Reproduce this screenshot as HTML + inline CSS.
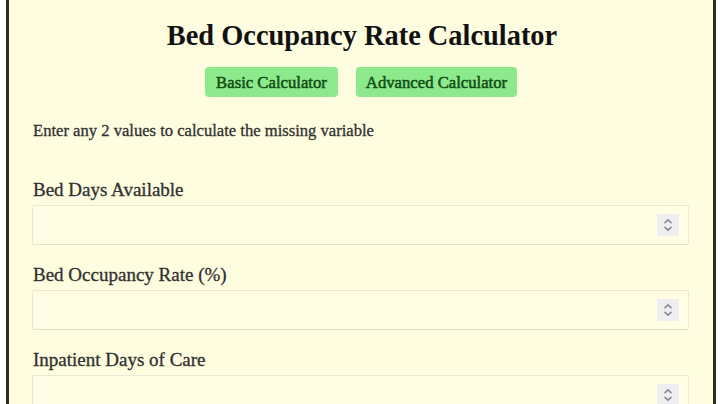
<!DOCTYPE html>
<html><head><meta charset="utf-8">
<style>
html,body{margin:0;padding:0;background:#fff;}
body{width:720px;height:404px;overflow:hidden;position:relative;font-family:"Liberation Serif",serif;}
.frame{position:absolute;left:6px;top:-10px;width:704px;height:430px;border:3px solid #2b2b24;background:#fffde0;}
h1{position:absolute;left:2px;width:720px;top:20px;margin:0;text-align:center;font-size:28.4px;font-weight:bold;color:#111;line-height:normal;}
.btn{position:absolute;top:67px;height:30px;background:#8cea8c;border-radius:4px;color:#104d14;-webkit-text-stroke:0.5px #104d14;font-size:16.7px;line-height:31px;text-align:center;}
.b1{left:205px;width:133px;}
.b2{left:356px;width:161px;}
.hint{position:absolute;left:33px;top:121px;font-size:16.6px;color:#303030;-webkit-text-stroke:0.3px #303030;}
.lbl{position:absolute;left:33px;font-size:19px;color:#303030;-webkit-text-stroke:0.3px #303030;}
.inp{position:absolute;left:32px;width:655px;height:38px;border:1px solid #ebe9d3;border-bottom-color:#e3e1ca;border-radius:2px;background:#fffee4;}
.spin{position:absolute;left:624px;top:8px;width:22px;height:22px;background:#eeeef0;}
.spin svg{position:absolute;left:0;top:0;}
</style></head><body>
<div class="frame"></div>
<h1>Bed Occupancy Rate Calculator</h1>
<div class="btn b1">Basic Calculator</div>
<div class="btn b2">Advanced Calculator</div>
<div class="hint">Enter any 2 values to calculate the missing variable</div>
<div class="lbl" style="top:179px">Bed Days Available</div>
<div class="inp" style="top:205px"><div class="spin"><svg width="22" height="22"><path d="M8 8.6 L11 5.9 L14 8.6 M8 13.4 L11 16.1 L14 13.4" fill="none" stroke="#8a8a8e" stroke-width="1.6" stroke-linecap="round" stroke-linejoin="round"/></svg></div></div>
<div class="lbl" style="top:264px">Bed Occupancy Rate (%)</div>
<div class="inp" style="top:290px"><div class="spin"><svg width="22" height="22"><path d="M8 8.6 L11 5.9 L14 8.6 M8 13.4 L11 16.1 L14 13.4" fill="none" stroke="#8a8a8e" stroke-width="1.6" stroke-linecap="round" stroke-linejoin="round"/></svg></div></div>
<div class="lbl" style="top:349px">Inpatient Days of Care</div>
<div class="inp" style="top:375px"><div class="spin"><svg width="22" height="22"><path d="M8 8.6 L11 5.9 L14 8.6 M8 13.4 L11 16.1 L14 13.4" fill="none" stroke="#8a8a8e" stroke-width="1.6" stroke-linecap="round" stroke-linejoin="round"/></svg></div></div>
</body></html>
